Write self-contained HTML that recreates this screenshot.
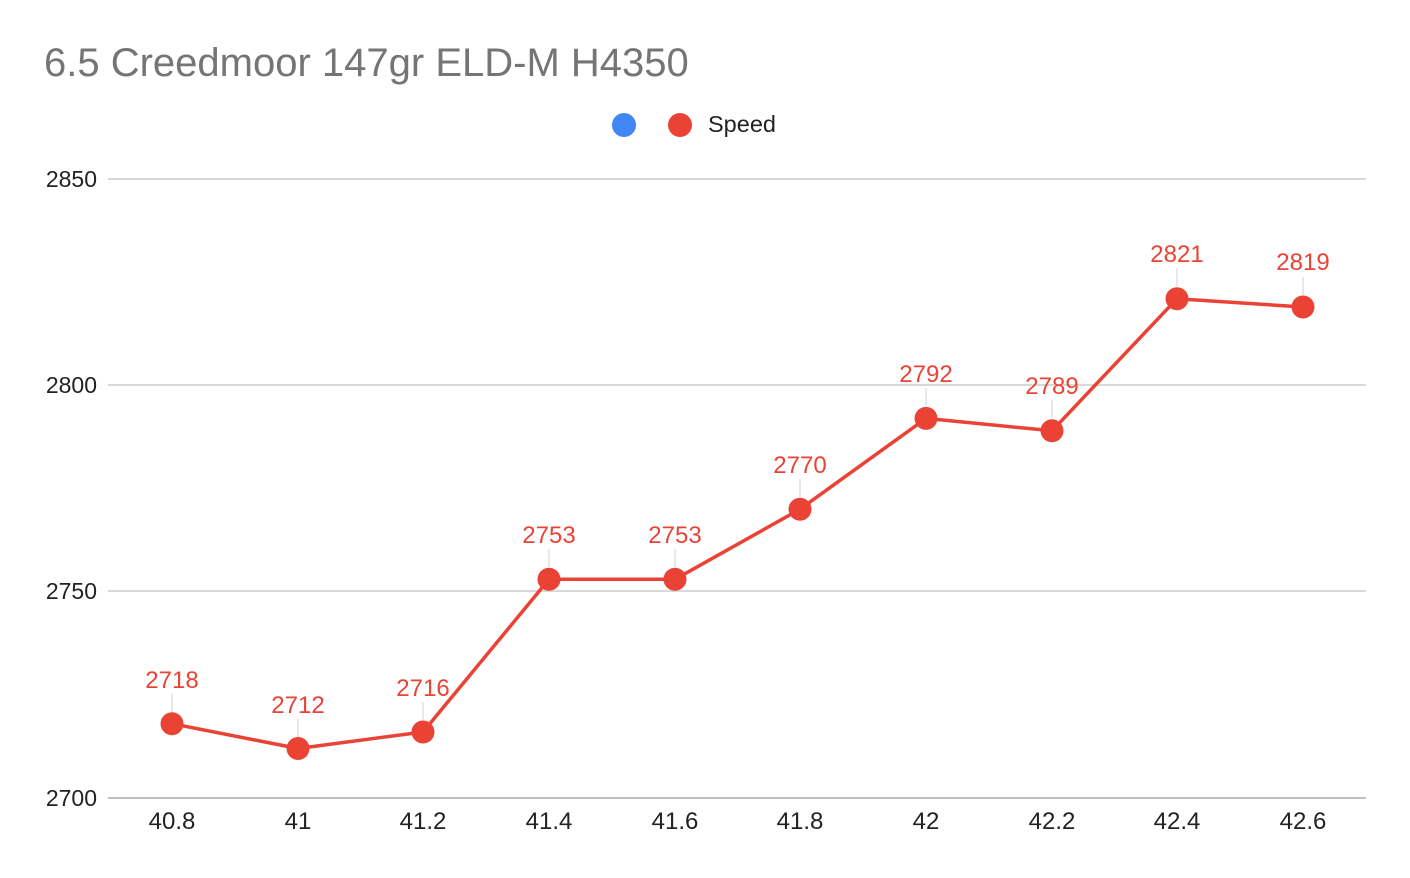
<!DOCTYPE html>
<html><head><meta charset="utf-8"><style>
html,body{margin:0;padding:0;background:#fff;}
svg{display:block;font-family:"Liberation Sans",Arial,sans-serif;}
</style></head><body>
<svg width="1410" height="878" viewBox="0 0 1410 878" xmlns="http://www.w3.org/2000/svg">
<rect width="1410" height="878" fill="#fff"/>
<text x="44" y="76" font-size="40" fill="#757575">6.5 Creedmoor 147gr ELD-M H4350</text>
<circle cx="624" cy="125" r="12" fill="#4285f4"/>
<circle cx="680" cy="125" r="12" fill="#ea4335"/>
<text x="708" y="132" font-size="23.5" fill="#222">Speed</text>
<g stroke="#cccccc" stroke-width="1.5">
<line x1="108" y1="179" x2="1366" y2="179"/>
<line x1="108" y1="385" x2="1366" y2="385"/>
<line x1="108" y1="591" x2="1366" y2="591"/>
</g>
<line x1="108" y1="798" x2="1366" y2="798" stroke="#aaaaaa" stroke-width="1.5"/>
<g font-size="23" fill="#222" text-anchor="end">
<text x="97" y="187">2850</text>
<text x="97" y="393">2800</text>
<text x="97" y="599">2750</text>
<text x="97" y="806">2700</text>
</g>
<g font-size="24" fill="#222" text-anchor="middle">
<text x="172" y="829">40.8</text>
<text x="298" y="829">41</text>
<text x="423" y="829">41.2</text>
<text x="549" y="829">41.4</text>
<text x="675" y="829">41.6</text>
<text x="800" y="829">41.8</text>
<text x="926" y="829">42</text>
<text x="1052" y="829">42.2</text>
<text x="1177" y="829">42.4</text>
<text x="1303" y="829">42.6</text>
</g>
<g stroke="#e0e0e0" stroke-width="1.5">
<line x1="172" y1="694" x2="172" y2="712"/>
<line x1="298" y1="719" x2="298" y2="737"/>
<line x1="423" y1="702" x2="423" y2="720"/>
<line x1="549" y1="549" x2="549" y2="567"/>
<line x1="675" y1="549" x2="675" y2="567"/>
<line x1="800" y1="479" x2="800" y2="497"/>
<line x1="926" y1="388" x2="926" y2="406"/>
<line x1="1052" y1="400" x2="1052" y2="418"/>
<line x1="1177" y1="268" x2="1177" y2="286"/>
<line x1="1303" y1="277" x2="1303" y2="295"/>
</g>
<polyline fill="none" stroke="#ea4335" stroke-width="3.5" stroke-linejoin="round"
points="172,723.7 298,748.5 423,732 549,579.3 675,579.3 800,509.2 926,418.4 1052,430.8 1177,298.7 1303,307"/>
<g fill="#ea4335">
<circle cx="172" cy="723.7" r="11.5"/>
<circle cx="298" cy="748.5" r="11.5"/>
<circle cx="423" cy="732" r="11.5"/>
<circle cx="549" cy="579.3" r="11.5"/>
<circle cx="675" cy="579.3" r="11.5"/>
<circle cx="800" cy="509.2" r="11.5"/>
<circle cx="926" cy="418.4" r="11.5"/>
<circle cx="1052" cy="430.8" r="11.5"/>
<circle cx="1177" cy="298.7" r="11.5"/>
<circle cx="1303" cy="307" r="11.5"/>
</g>
<g font-size="24" fill="#ea4335" text-anchor="middle">
<text x="172" y="688">2718</text>
<text x="298" y="713">2712</text>
<text x="423" y="696">2716</text>
<text x="549" y="543">2753</text>
<text x="675" y="543">2753</text>
<text x="800" y="473">2770</text>
<text x="926" y="382">2792</text>
<text x="1052" y="394">2789</text>
<text x="1177" y="262">2821</text>
<text x="1303" y="270">2819</text>
</g>
</svg>
</body></html>
